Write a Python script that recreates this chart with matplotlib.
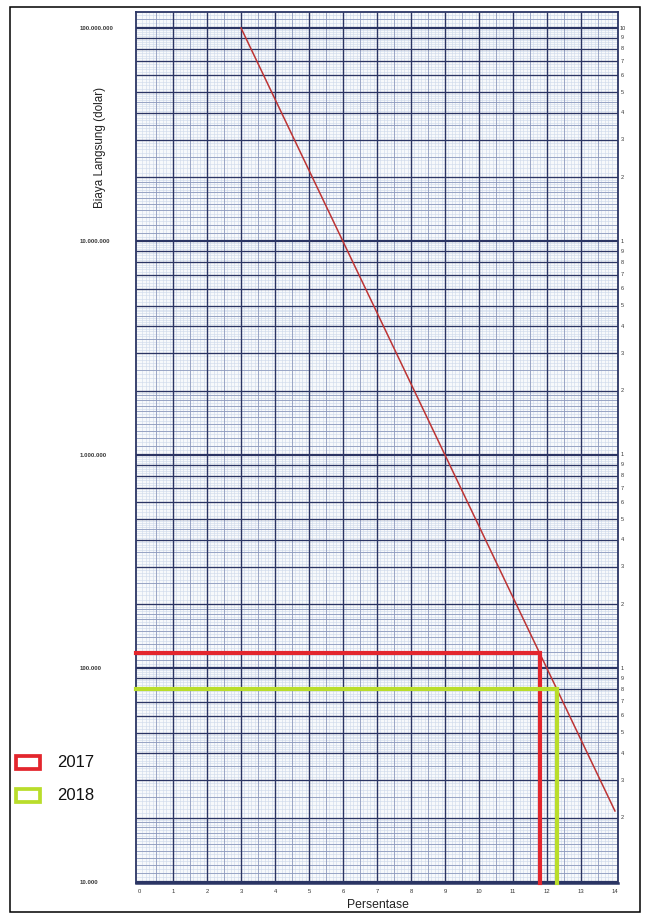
import numpy as np
import matplotlib
matplotlib.use("Agg")
import matplotlib.pyplot as plt
from matplotlib.patches import Rectangle
from matplotlib import transforms

# ---------------- data ----------------
line_x = [3, 6, 9, 12, 14]
line_y = [100_000_000, 10_000_000, 1_000_000, 100_000, 21_500]
years = ["2017", "2018"]
year_pct = [11.8, 12.3]
year_cost = [118_000, 80_000]
year_colors = ["#e3262d", "#b9dd2b"]
x_ticks = list(range(15))
y_ticks = [10_000, 100_000, 1_000_000, 10_000_000, 100_000_000]
y_tick_labels = ["10.000", "100.000", "1.000.000", "10.000.000", "100.000.000"]
right_marks = [1, 2, 3, 4, 5, 6, 7, 8, 9]
x_label = "Persentase"
y_label = "Biaya Langsung (dolar)"

# ---------------- layout ----------------
W, H = 645, 913
plt.rcParams['font.family'] = ['Liberation Sans', 'DejaVu Sans']
fig = plt.figure(figsize=(W / 100, H / 100), dpi=100)
fig.patch.set_facecolor('white')

def fx(px):
    return px / W

def fy(py):
    return 1 - py / H

L, R, T, B = 136, 618, 12, 883
ax = fig.add_axes([fx(L), fy(B), (R - L) / W, (B - T) / H])
ax.set_yscale('log')
XMIN, XMAX = -0.09, 14.09
YMIN, YMAX = 10 ** 3.995, 10 ** 8.075
ax.set_xlim(XMIN, XMAX)
ax.set_ylim(YMIN, YMAX)
ax.set_facecolor('#f7f9fb')

navy = '#2b3564'
mid = '#8c99bd'
light = '#cdd8ea'

# vertical grid
fine_x = [v for v in np.round(np.arange(0, 14.01, 0.1), 2) if abs(v * 2 - round(v * 2)) > 1e-6]
half_x = [v + 0.5 for v in range(14)]
ax.vlines(fine_x, YMIN, YMAX, colors=light, lw=0.4, zorder=1)
ax.vlines(half_x, YMIN, YMAX, colors=mid, lw=0.6, zorder=1.5)
ax.vlines(range(1, 14), YMIN, YMAX, colors=navy, lw=1.0, zorder=2)

# horizontal log grid
fine_y, med_y, maj_y, dec_y = [], [], [], []
for d in range(3, 9):
    base = 10.0 ** d
    for m in np.concatenate([np.arange(1, 2, 0.05), np.arange(2, 5, 0.1), np.arange(5, 10, 0.2)]):
        fine_y.append(m * base)
    for m in list(np.arange(1.1, 2.0, 0.1)) + [2.5, 3.5, 4.5]:
        med_y.append(m * base)
    for m in range(2, 10):
        maj_y.append(m * base)
    dec_y.append(base)
def clip(v):
    return [y for y in v if YMIN <= y <= YMAX]
ax.hlines(clip(fine_y), XMIN, XMAX, colors=light, lw=0.4, zorder=1)
ax.hlines(clip(med_y), XMIN, XMAX, colors=mid, lw=0.6, zorder=1.5)
ax.hlines(clip(maj_y), XMIN, XMAX, colors=navy, lw=0.95, zorder=2)
ax.hlines(clip(dec_y), XMIN, XMAX, colors=navy, lw=1.6, zorder=2)

for s in ax.spines.values():
    s.set_color(navy)
    s.set_linewidth(1.3)
ax.spines['bottom'].set_linewidth(1.8)

# main line
ax.plot(line_x, line_y, color='#bd3434', lw=1.1, zorder=5)

# reference lines for years
for px, py, c in zip(year_pct, year_cost, year_colors):
    ax.plot([XMIN, px, px], [py, py, YMIN], color=c, lw=3.0,
            solid_joinstyle='miter', zorder=6, clip_on=False)

# ticks
ax.set_xticks(x_ticks)
ax.set_xticklabels([str(v) for v in x_ticks], fontsize=4.2, color='#333333')
ax.tick_params(axis='x', length=0, pad=4.5)
ax.set_yticks(y_ticks)
ax.set_yticklabels(y_tick_labels, fontsize=4.4, fontweight='bold', color='#3a3a3a')
ax.tick_params(axis='y', length=0, pad=40.3)
for lab in ax.get_yticklabels():
    lab.set_horizontalalignment('left')
ax.yaxis.set_minor_locator(matplotlib.ticker.NullLocator())

# right side log-cycle labels
tr = transforms.blended_transform_factory(fig.transFigure, ax.transData)
for d in range(4, 8):
    for m in right_marks:
        if d == 4 and m == 1:
            continue
        ax.text(fx(621), m * 10.0 ** d, str(m), transform=tr, fontsize=4.0,
                ha='left', va='center', color='#333333')
ax.text(fx(620), 10.0 ** 8, "10", transform=tr, fontsize=4.0,
        ha='left', va='center', color='#333333')

# axis labels
fig.text(fx(378), fy(905), x_label, fontsize=8.8, ha='center', va='center', color='#222222')
fig.text(fx(100), fy(147), y_label, fontsize=8.4, ha='center', va='center',
         rotation=90, color='#222222')

# legend
leg_y = [762.5, 795]
for yr, c, cy in zip(years, year_colors, leg_y):
    fig.patches.append(Rectangle((fx(16), fy(cy + 6.5)), 24 / W, 13 / H,
                                 transform=fig.transFigure, fill=False,
                                 edgecolor=c, lw=2.7, joinstyle='miter'))
    fig.text(fx(57), fy(cy), yr, fontsize=12, ha='left', va='center', color='#111111')

# outer frame
fig.patches.append(Rectangle((fx(10), fy(912)), (640 - 10) / W, (912 - 7) / H,
                             transform=fig.transFigure, fill=False,
                             edgecolor='black', lw=1.1))

fig.savefig('out.png', dpi=100, facecolor='white')
